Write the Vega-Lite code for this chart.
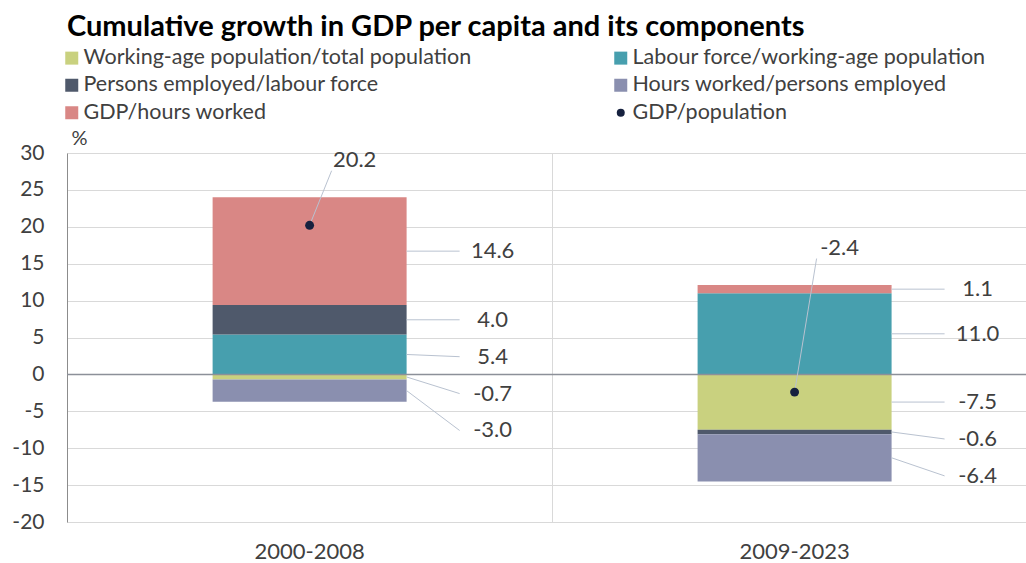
{
  "$schema": "https://vega.github.io/schema/vega-lite/v6.json",
  "width": 959,
  "height": 369,
  "autosize": {"type": "none"},
  "padding": {"left": 67, "top": 153, "right": 0, "bottom": 41},
  "background": "white",
  "config": {
    "font": "Lato",
    "view": {"stroke": null},
    "locale": {"number": {"decimal": ".", "thousands": ",", "grouping": [3], "currency": ["$", ""], "minus": "-"}},
    "axisY": {
      "labelOverlap": false,
      "labelFontSize": 21, "labelColor": "#404040", "labelPadding": 23,
      "ticks": false, "domainColor": "#8c8c8c", "domainWidth": 1,
      "grid": true, "gridColor": "#d9d9d9", "gridWidth": 1,
      "titleAngle": 0, "titleAlign": "left", "titleBaseline": "middle",
      "titleX": 4, "titleY": -15, "titleFontSize": 20, "titleFontWeight": "normal",
      "titleColor": "#404040"
    }
  },
  "title": {
    "text": "Cumulative growth in GDP per capita and its components",
    "anchor": "start",
    "frame": "group",
    "fontSize": 29,
    "fontWeight": "bold",
    "color": "#000000",
    "font": "Lato",
    "offset": 5
  },
  "datasets": {
    "main": [
      {"period": "2000-2008", "component": "Working-age population/total population", "value": -0.7},
      {"period": "2000-2008", "component": "Labour force/working-age population", "value": 5.4},
      {"period": "2000-2008", "component": "Persons employed/labour force", "value": 4.0},
      {"period": "2000-2008", "component": "Hours worked/persons employed", "value": -3.0},
      {"period": "2000-2008", "component": "GDP/hours worked", "value": 14.6},
      {"period": "2000-2008", "component": "GDP/population", "value": 20.2},
      {"period": "2009-2023", "component": "Working-age population/total population", "value": -7.5},
      {"period": "2009-2023", "component": "Labour force/working-age population", "value": 11.0},
      {"period": "2009-2023", "component": "Persons employed/labour force", "value": -0.6},
      {"period": "2009-2023", "component": "Hours worked/persons employed", "value": -6.4},
      {"period": "2009-2023", "component": "GDP/hours worked", "value": 1.1},
      {"period": "2009-2023", "component": "GDP/population", "value": -2.4}
    ]
  },
  "layer": [
    {
      "data": {"name": "main"},
      "transform": [
        {"filter": "datum.component !== 'GDP/population'"},
        {"calculate": "indexof(['Working-age population/total population','Labour force/working-age population','Persons employed/labour force','Hours worked/persons employed','GDP/hours worked'], datum.component)", "as": "idx"},
        {"stack": "value", "groupby": ["period"], "sort": [{"field": "idx", "order": "ascending"}], "as": ["y0", "y1"]}
      ],
      "mark": {"type": "bar"},
      "encoding": {
        "x": {
          "field": "period", "type": "nominal",
          "scale": {"paddingInner": 0.6, "paddingOuter": 0.2887, "align": 0.52},
          "axis": {
            "title": null, "labelAngle": 0, "labelFontSize": 22, "labelColor": "#404040",
            "labelPadding": 19, "ticks": false, "domain": false,
            "grid": true, "bandPosition": -0.75, "gridColor": "#d9d9d9", "gridWidth": 1
          }
        },
        "y": {
          "field": "y1", "type": "quantitative",
          "scale": {"domain": [-20, 30], "nice": false, "zero": false},
          "axis": {"values": [-20, -15, -10, -5, 0, 5, 10, 15, 20, 25, 30], "title": "%"}
        },
        "y2": {"field": "y0"},
        "color": {
          "field": "component", "type": "nominal",
          "scale": {
            "domain": ["Working-age population/total population", "Labour force/working-age population", "Persons employed/labour force", "Hours worked/persons employed", "GDP/hours worked", "GDP/population"],
            "range": ["#c9d17f", "#479fae", "#4f596b", "#8a8faf", "#d98785", "#16213f"]
          },
          "legend": {
            "title": null, "orient": "none", "legendX": -6, "legendY": -106,
            "direction": "horizontal",
            "columns": 2, "columnPadding": 138, "rowPadding": 4.5,
            "labelFontSize": 21.5, "labelColor": "#404040", "labelFont": "Lato", "labelLimit": 0,
            "symbolType": "square", "symbolSize": 169, "symbolStrokeWidth": 0, "labelOffset": 1,
            "encode": {
              "symbols": {
                "update": {
                  "shape": {"signal": "datum.value === 'GDP/population' ? 'circle' : 'square'"},
                  "size": {"signal": "datum.value === 'GDP/population' ? 64 : 169"}
                }
              }
            }
          }
        }
      }
    },
    {
      "data": {"values": [{"zero": 0}]},
      "mark": {"type": "rule", "color": "#8c9099", "strokeWidth": 1.5},
      "encoding": {"y": {"field": "zero", "type": "quantitative", "axis": {"values": [-20, -15, -10, -5, 0, 5, 10, 15, 20, 25, 30], "title": "%"}}}
    },
    {
      "data": {"name": "main"},
      "transform": [
        {"filter": "datum.component !== 'GDP/population'"},
        {"calculate": "indexof(['Working-age population/total population','Labour force/working-age population','Persons employed/labour force','Hours worked/persons employed','GDP/hours worked'], datum.component)", "as": "idx"},
        {"stack": "value", "groupby": ["period"], "sort": [{"field": "idx", "order": "ascending"}], "as": ["y0", "y1"]},
        {"calculate": "(datum.y0 + datum.y1) / 2", "as": "mid"},
        {"window": [{"op": "row_number", "as": "rn"}], "groupby": ["period"], "sort": [{"field": "mid", "order": "descending"}]},
        {"calculate": "datum.mid + 5 * (datum.rn - 1)", "as": "k"},
        {"window": [{"op": "min", "field": "k", "as": "kmin"}], "groupby": ["period"], "sort": [{"field": "mid", "order": "descending"}], "frame": [null, 0]},
        {"calculate": "datum.kmin - 5 * (datum.rn - 1)", "as": "label_y"}
      ],
      "layer": [
        {
          "mark": {"type": "rule", "color": "#b9c2d0", "strokeWidth": 1, "xOffset": 97, "x2Offset": 150},
          "encoding": {
            "x": {"field": "period", "type": "nominal"},
            "x2": {"field": "period"},
            "y": {"field": "mid", "type": "quantitative", "axis": {"values": [-20, -15, -10, -5, 0, 5, 10, 15, 20, 25, 30], "title": "%"}},
            "y2": {"field": "label_y"}
          }
        },
        {
          "mark": {"type": "text", "dx": 183, "align": "center", "baseline": "middle", "fontSize": 22, "color": "#404040", "font": "Lato"},
          "encoding": {
            "x": {"field": "period", "type": "nominal"},
            "y": {"field": "label_y", "type": "quantitative", "axis": {"values": [-20, -15, -10, -5, 0, 5, 10, 15, 20, 25, 30], "title": "%"}},
            "text": {"field": "value", "type": "quantitative", "format": ".1f"}
          }
        }
      ]
    },
    {
      "data": {"name": "main"},
      "transform": [
        {"calculate": "datum.component !== 'GDP/population' && datum.value > 0 ? datum.value : 0", "as": "pos"},
        {"joinaggregate": [{"op": "sum", "field": "pos", "as": "top"}], "groupby": ["period"]},
        {"filter": "datum.component === 'GDP/population'"},
        {"calculate": "datum.top + 5", "as": "label_y"},
        {"calculate": "datum.top + 3.6", "as": "line_end"}
      ],
      "layer": [
        {
          "mark": {"type": "rule", "color": "#b9c2d0", "strokeWidth": 1, "x2Offset": 22},
          "encoding": {
            "x": {"field": "period", "type": "nominal"},
            "x2": {"field": "period"},
            "y": {"field": "value", "type": "quantitative", "axis": {"values": [-20, -15, -10, -5, 0, 5, 10, 15, 20, 25, 30], "title": "%"}},
            "y2": {"field": "line_end"}
          }
        },
        {
          "mark": {"type": "point", "filled": true, "size": 80, "opacity": 1},
          "encoding": {
            "x": {"field": "period", "type": "nominal"},
            "y": {"field": "value", "type": "quantitative", "axis": {"values": [-20, -15, -10, -5, 0, 5, 10, 15, 20, 25, 30], "title": "%"}},
            "color": {"field": "component", "type": "nominal"}
          }
        },
        {
          "mark": {"type": "text", "dx": 45, "align": "center", "baseline": "middle", "fontSize": 22, "color": "#404040", "font": "Lato"},
          "encoding": {
            "x": {"field": "period", "type": "nominal"},
            "y": {"field": "label_y", "type": "quantitative", "axis": {"values": [-20, -15, -10, -5, 0, 5, 10, 15, 20, 25, 30], "title": "%"}},
            "text": {"field": "value", "type": "quantitative", "format": ".1f"}
          }
        }
      ]
    }
  ]
}
